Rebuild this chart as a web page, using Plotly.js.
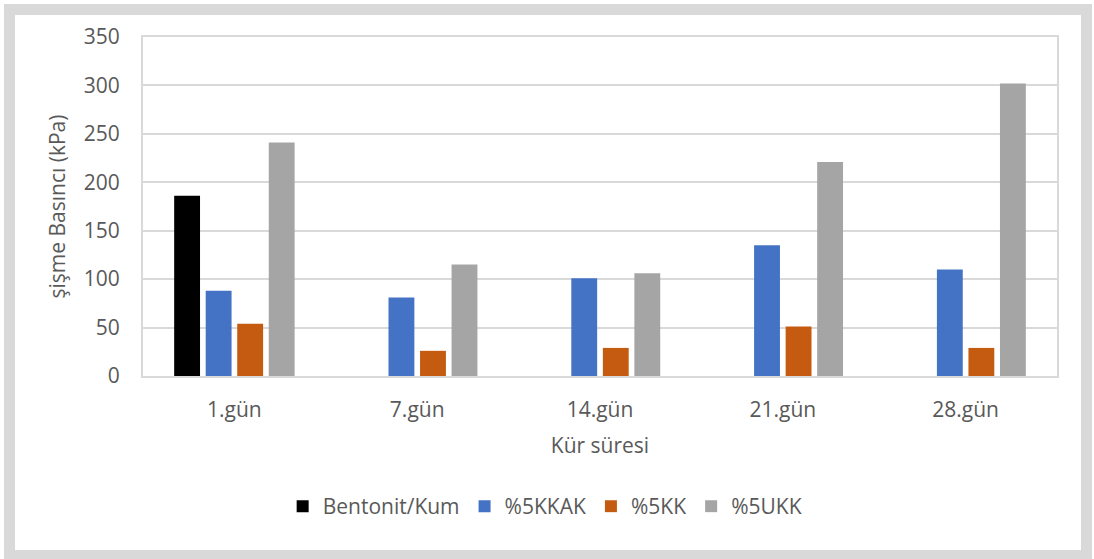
<!DOCTYPE html>
<html>
<head>
<meta charset="utf-8">
<script src="https://cdn.plot.ly/plotly-3.0.1.min.js"></script>
<style>
  html, body { margin: 0; padding: 0; background: #ffffff; }
  #wrap { position: relative; width: 1094px; height: 559px; overflow: hidden; }
  #chart { position: absolute; left: 0; top: 0; width: 1094px; height: 559px; }
  #frame { position: absolute; left: 4px; top: 4px; width: 1066px; height: 535px;
           border: 11px solid #d9d9d9; pointer-events: none; }
</style>
</head>
<body>
<div id="wrap">
  <div id="chart"></div>
  <div id="frame"></div>
</div>
<script>
const categories = ["1.gün", "7.gün", "14.gün", "21.gün", "28.gün"];
const seriesNames = ["Bentonit/Kum", "%5KKAK", "%5KK", "%5UKK"];
const bentonitKum = [186, null, null, null, null];
const kkak5 = [88, 81, 101, 135, 110];
const kk5 = [54, 26, 29, 51, 29];
const ukk5 = [241, 115, 106, 221, 302];
const colors = ["#000000", "#4472c4", "#c55a11", "#a5a5a5"];
const yTicks = [0, 50, 100, 150, 200, 250, 300, 350];

const seriesValues = [bentonitKum, kkak5, kk5, ukk5];
const textColor = "#595959";
const fontFam = "'Open Sans', 'Noto Sans', sans-serif";

const data = seriesValues.map((vals, i) => ({
  type: "bar",
  name: seriesNames[i],
  x: categories,
  y: vals,
  marker: { color: colors[i] },
  hoverinfo: "x+y+name"
}));

const layout = {
  width: 1094,
  height: 559,
  margin: { l: 143, r: 37, t: 37, b: 183 },
  paper_bgcolor: "#ffffff",
  plot_bgcolor: "#ffffff",
  barmode: "group",
  bargap: 0.31,
  bargroupgap: 0.18,
  font: { family: fontFam, color: textColor, size: 21 },
  xaxis: {
    type: "category",
    showgrid: false,
    showline: true,
    linecolor: "#d9d9d9",
    linewidth: 2,
    mirror: true,
    ticks: "",
    ticklabelstandoff: 14,
    tickfont: { family: fontFam, size: 21, color: textColor },
    title: { text: "Kür süresi", font: { family: fontFam, size: 21, color: textColor }, standoff: 16 }
  },
  yaxis: {
    range: [0, 350],
    tickvals: yTicks,
    ticktext: yTicks.map(String),
    showgrid: true,
    gridcolor: "#d9d9d9",
    gridwidth: 2,
    zeroline: false,
    showline: true,
    linecolor: "#d9d9d9",
    linewidth: 2,
    mirror: true,
    ticks: "",
    ticklabelstandoff: 17,
    tickfont: { family: fontFam, size: 21, color: textColor },
    title: { text: "şişme Basıncı (kPa)", font: { family: fontFam, size: 21, color: textColor }, standoff: 12 }
  },
  legend: {
    orientation: "h",
    x: 0.44,
    xanchor: "center",
    y: -0.385,
    yanchor: "middle",
    font: { family: fontFam, size: 21, color: textColor },
    itemwidth: 30,
    traceorder: "normal"
  },
  showlegend: true
};

Plotly.newPlot("chart", data, layout, { displayModeBar: false, staticPlot: true });
</script>
</body>
</html>
